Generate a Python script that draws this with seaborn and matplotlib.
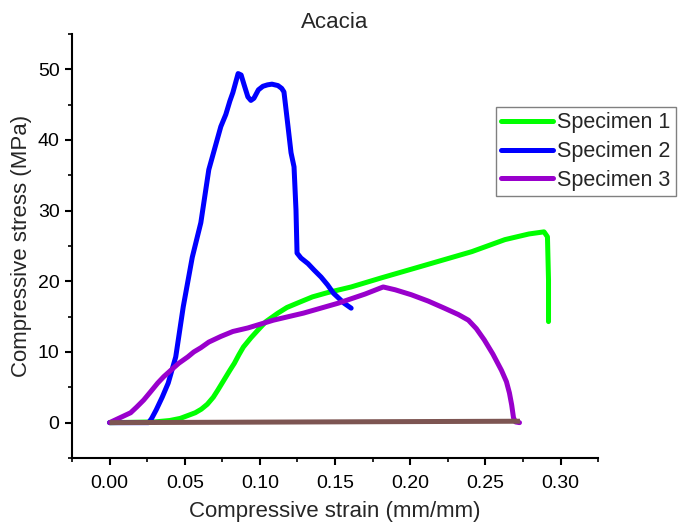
import numpy as np
import pandas as pd
import matplotlib
matplotlib.use("Agg")
import matplotlib.pyplot as plt
from matplotlib.ticker import MultipleLocator
import seaborn as sns

# Compressive stress-strain curves, Acacia specimens
strain_1 = [0.000, 0.030, 0.040, 0.047, 0.052, 0.057, 0.061, 0.065, 0.069, 0.072,
            0.076, 0.080, 0.083, 0.086, 0.089, 0.094, 0.0987, 0.104, 0.112, 0.118,
            0.127, 0.135, 0.145, 0.1607, 0.181, 0.207, 0.241, 0.263, 0.279, 0.289,
            0.2913, 0.292, 0.292]
stress_1 = [0.0, 0.1, 0.3, 0.6, 1.0, 1.4, 1.9, 2.6, 3.6, 4.6,
            6.0, 7.4, 8.4, 9.6, 10.7, 12.0, 13.1, 14.3, 15.5, 16.3,
            17.1, 17.8, 18.4, 19.2, 20.5, 22.1, 24.2, 25.9, 26.7, 27.0,
            26.3, 20.2, 14.3]

strain_2 = [0.000, 0.026, 0.028, 0.031, 0.035, 0.039, 0.044, 0.049, 0.055, 0.0607,
            0.066, 0.074, 0.0773, 0.080, 0.082, 0.0855, 0.0875, 0.0895, 0.092, 0.094,
            0.096, 0.099, 0.102, 0.105, 0.108, 0.112, 0.1145, 0.116, 0.117, 0.1187,
            0.1207, 0.1227, 0.124, 0.1247, 0.1273, 0.132, 0.136, 0.1407, 0.145, 0.149,
            0.156, 0.1607]
stress_2 = [0.0, 0.0, 0.6, 1.8, 3.6, 5.6, 9.3, 16.4, 23.4, 28.3,
            35.8, 41.9, 43.6, 45.5, 46.7, 49.4, 49.2, 47.8, 46.1, 45.6,
            45.9, 47.1, 47.6, 47.8, 47.9, 47.7, 47.3, 46.8, 45.0, 41.9,
            38.2, 36.2, 30.1, 24.0, 23.3, 22.5, 21.6, 20.6, 19.5, 18.3,
            16.9, 16.2]

strain_3 = [0.000, 0.005, 0.010, 0.014, 0.018, 0.0227, 0.027, 0.032, 0.036, 0.0407,
            0.046, 0.052, 0.056, 0.0607, 0.066, 0.074, 0.082, 0.092, 0.109, 0.129,
            0.152, 0.170, 0.182, 0.190, 0.2007, 0.212, 0.2227, 0.232, 0.2387, 0.244,
            0.2493, 0.255, 0.2607, 0.264, 0.266, 0.2675, 0.2687, 0.270, 0.2727]
stress_3 = [0.0, 0.5, 1.0, 1.4, 2.2, 3.2, 4.3, 5.6, 6.5, 7.4,
            8.4, 9.3, 10.0, 10.6, 11.4, 12.2, 12.9, 13.4, 14.5, 15.5,
            16.9, 18.2, 19.2, 18.8, 18.1, 17.2, 16.2, 15.3, 14.5, 13.3,
            11.7, 9.7, 7.4, 5.8, 4.2, 2.5, 0.7, 0.1, 0.0]

# unloaded baseline trace
strain_base = [0.000, 0.273]
stress_base = [0.0, 0.2]

labels = ["Specimen 1", "Specimen 2", "Specimen 3"]
colors = ["#00ff00", "#0000ff", "#9900cc"]
base_color = "#7d5552"
LW = 3.6

frames = []
for lab, xs, ys in zip(labels, [strain_1, strain_2, strain_3],
                       [stress_1, stress_2, stress_3]):
    frames.append(pd.DataFrame({"strain": xs, "stress": ys, "specimen": lab}))
df = pd.concat(frames, ignore_index=True)
df_base = pd.DataFrame({"strain": strain_base, "stress": stress_base})

sns.set_style("ticks")
plt.rcParams["font.family"] = ["Liberation Sans", "DejaVu Sans"]

fig = plt.figure(figsize=(6.82, 5.27), dpi=100)
ax = fig.add_axes([0.1056, 0.131, 0.877 - 0.1056, 0.9355 - 0.131])

sns.lineplot(data=df, x="strain", y="stress", hue="specimen", units="specimen",
             palette=dict(zip(labels, colors)), sort=False, estimator=None,
             linewidth=LW, ax=ax, zorder=3,
             solid_joinstyle="round", solid_capstyle="round")
sns.lineplot(data=df_base, x="strain", y="stress", color=base_color,
             sort=False, estimator=None, linewidth=LW, ax=ax, zorder=4,
             legend=False, solid_capstyle="butt")

ax.set_xlim(-0.025, 0.325)
ax.set_ylim(-5, 55)
xt = np.arange(0, 0.31, 0.05)
ax.set_xticks(xt)
ax.set_xticklabels([f"{v:.2f}" for v in xt])
ax.xaxis.set_minor_locator(MultipleLocator(0.025))
ax.yaxis.set_major_locator(MultipleLocator(10))
ax.yaxis.set_minor_locator(MultipleLocator(5))

for s in ["top", "right"]:
    ax.spines[s].set_visible(False)
for s in ["left", "bottom"]:
    ax.spines[s].set_linewidth(1.5)
    ax.spines[s].set_color("black")

ax.tick_params(which="major", direction="out", length=5, width=1.5,
               labelsize=14, colors="black", pad=4)
ax.tick_params(which="minor", direction="out", length=3, width=1.2, colors="black")
ax.tick_params(axis="x", pad=7)

ax.set_xlabel("Compressive strain (mm/mm)", fontsize=16, labelpad=7)
ax.set_ylabel("Compressive stress (MPa)", fontsize=16, labelpad=4)
ax.set_title("Acacia", fontsize=16, pad=4)

handles, lbls = ax.get_legend_handles_labels()
leg = ax.legend(handles, lbls, loc="upper left",
                bbox_to_anchor=(496 / 682, 1 - 107 / 527),
                bbox_transform=fig.transFigure, fontsize=15.5,
                frameon=True, fancybox=False, framealpha=1,
                edgecolor="#808080", handlelength=2.4, handletextpad=0.2,
                labelspacing=0.36, borderpad=0.25, borderaxespad=0)
leg.get_frame().set_linewidth(1.0)
for line in leg.get_lines():
    line.set_linewidth(LW)
    line.set_solid_capstyle("round")

fig.savefig("out.png", dpi=100)
